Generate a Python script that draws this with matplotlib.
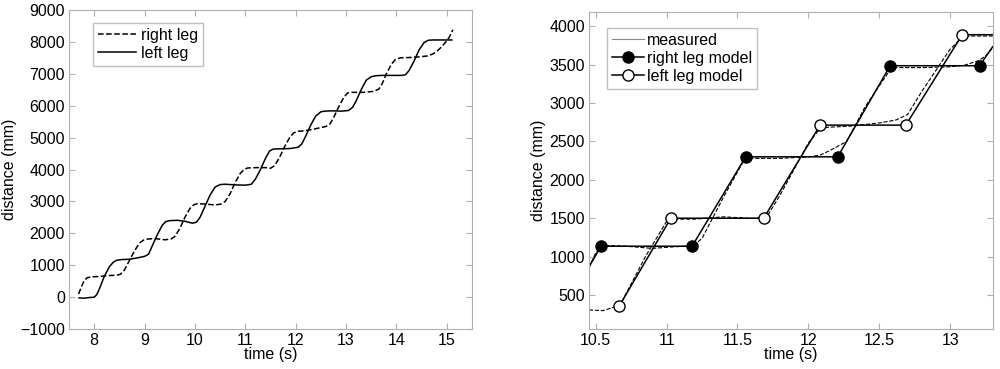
import matplotlib
matplotlib.use('Agg')
import matplotlib.pyplot as plt
from matplotlib.lines import Line2D

plt.rcParams['font.family'] = ['Liberation Sans', 'DejaVu Sans']
plt.rcParams['font.size'] = 11.5

# ---- left panel: whole walk ----
left_t = [7.70, 7.80, 7.90, 8.00, 8.05, 8.10, 8.20, 8.30, 8.38, 8.45, 8.55, 8.70, 8.85,
          9.00, 9.08, 9.15, 9.25, 9.35, 9.42, 9.50, 9.65, 9.80, 9.95, 10.03, 10.10, 10.20,
          10.30, 10.40, 10.50, 10.60, 10.80, 11.00, 11.12, 11.20, 11.30, 11.40, 11.48,
          11.55, 11.70, 11.90, 12.05, 12.12, 12.20, 12.30, 12.40, 12.50, 12.58, 12.70,
          12.90, 13.05, 13.13, 13.20, 13.30, 13.40, 13.50, 13.60, 13.70, 13.90, 14.10,
          14.18, 14.25, 14.35, 14.45, 14.55, 14.63, 14.72, 14.90, 15.10]
left_d = [-20, -30, -10, 0, 80, 250, 650, 950, 1100, 1160, 1180, 1190, 1230,
          1280, 1350, 1600, 1950, 2250, 2370, 2400, 2410, 2380, 2320, 2350, 2500, 2850,
          3200, 3450, 3530, 3540, 3520, 3510, 3540, 3700, 4000, 4350, 4580,
          4640, 4650, 4660, 4700, 4800, 5050, 5400, 5680, 5810, 5830, 5840,
          5830, 5850, 5950, 6150, 6500, 6800, 6910, 6940, 6950, 6950, 6950,
          6970, 7100, 7400, 7750, 7980, 8050, 8060, 8060, 8060]

right_t = [7.69, 7.74, 7.80, 7.86, 7.95, 8.10, 8.30, 8.45, 8.52, 8.60, 8.70, 8.80, 8.90,
           8.98, 9.05, 9.20, 9.40, 9.52, 9.60, 9.70, 9.80, 9.90, 9.98, 10.05, 10.20, 10.40,
           10.52, 10.60, 10.70, 10.80, 10.90, 10.98, 11.05, 11.20, 11.40, 11.50, 11.58,
           11.68, 11.78, 11.88, 11.96, 12.05, 12.20, 12.40, 12.60, 12.68, 12.76, 12.85,
           12.95, 13.03, 13.15, 13.35, 13.55, 13.65, 13.72, 13.80, 13.90, 13.98, 14.08,
           14.25, 14.45, 14.62, 14.72, 14.80, 14.90, 14.98, 15.05, 15.12]
right_d = [100, 300, 520, 610, 640, 650, 680, 690, 720, 850, 1150, 1450, 1700,
           1790, 1820, 1840, 1800, 1820, 1900, 2150, 2500, 2780, 2900, 2930, 2920, 2890,
           2920, 3000, 3250, 3600, 3880, 4010, 4050, 4060, 4060, 4040, 4120,
           4380, 4720, 5000, 5150, 5200, 5220, 5280, 5350, 5430, 5650, 5950,
           6250, 6400, 6420, 6420, 6450, 6520, 6700, 7000, 7300, 7450, 7500,
           7510, 7530, 7560, 7620, 7700, 7850, 8000, 8150, 8380]

# ---- right panel: model vs measured ----
rmod_t = [10.453, 10.538, 11.18, 11.558, 12.207, 12.577, 13.207, 13.30]
rmod_d = [870, 1138, 1138, 2300, 2300, 3484, 3484, 3731]
lmod_t = [10.665, 11.03, 11.685, 12.083, 12.687, 13.085, 13.30]
lmod_d = [357, 1502, 1502, 2712, 2712, 3887, 3887]

rmeas_t = [10.453, 10.50, 10.54, 10.70, 10.90, 11.05, 11.15, 11.20, 11.25, 11.40, 11.55,
           11.60, 11.80, 12.00, 12.08, 12.15, 12.27, 12.40, 12.58, 12.62, 12.80, 13.00,
           13.10, 13.20, 13.25, 13.30]
rmeas_d = [860, 1050, 1150, 1140, 1110, 1130, 1140, 1160, 1240, 1770, 2270,
           2280, 2280, 2300, 2320, 2380, 2500, 2950, 3440, 3460, 3460, 3470,
           3490, 3550, 3610, 3720]
lmeas_t = [10.453, 10.55, 10.62, 10.68, 10.85, 11.00, 11.05, 11.20, 11.40, 11.60, 11.68,
           11.72, 11.80, 12.00, 12.08, 12.10, 12.30, 12.50, 12.62, 12.70, 12.80, 13.00,
           13.09, 13.15, 13.30]
lmeas_d = [310, 300, 340, 400, 1000, 1460, 1490, 1490, 1520, 1500, 1510,
           1560, 1800, 2480, 2660, 2680, 2700, 2740, 2780, 2850, 3150, 3700,
           3860, 3870, 3870]

spine_col = '#b0b0b0'


def style(ax):
    for s in ax.spines.values():
        s.set_color(spine_col)
        s.set_linewidth(0.8)
    ax.tick_params(direction='in', top=True, right=True, color=spine_col,
                   labelsize=11.5, length=4, pad=3)


fig = plt.figure(figsize=(10, 3.69), dpi=100)

ax1 = fig.add_axes([0.069, 0.108, 0.403, 0.865])
ax1.plot(right_t, right_d, 'k--', lw=1.1, label='right leg')
ax1.plot(left_t, left_d, 'k-', lw=1.1, label='left leg')
ax1.set_xlim(7.5, 15.5)
ax1.set_ylim(-1000, 9000)
ax1.set_xticks(range(8, 16))
ax1.set_yticks(range(-1000, 9001, 1000))
ax1.set_xlabel('time (s)', labelpad=-1)
ax1.set_ylabel('distance (mm)', labelpad=2)
style(ax1)
leg1 = ax1.legend(loc='upper left', bbox_to_anchor=(0.04, 0.985), fancybox=False,
                  handlelength=2.4, borderpad=0.3, labelspacing=0.2, handletextpad=0.3)
leg1.get_frame().set_edgecolor(spine_col)

ax2 = fig.add_axes([0.589, 0.108, 0.4037, 0.86])
ax2.plot(rmeas_t, rmeas_d, 'k--', lw=0.8)
ax2.plot(lmeas_t, lmeas_d, 'k--', lw=0.8)
ax2.plot(rmod_t, rmod_d, 'k-', lw=1.1, marker='o', ms=8, mfc='k', mec='k',
         markevery=[1, 2, 3, 4, 5, 6])
ax2.plot(lmod_t, lmod_d, 'k-', lw=1.1, marker='o', ms=8, mfc='white', mec='k',
         markevery=[0, 1, 2, 3, 4, 5])
ax2.set_xlim(10.453, 13.30)
ax2.set_ylim(60, 4185)
ax2.set_xticks([10.5, 11, 11.5, 12, 12.5, 13])
ax2.set_xticklabels(['10.5', '11', '11.5', '12', '12.5', '13'])
ax2.set_yticks(range(500, 4001, 500))
ax2.set_xlabel('time (s)', labelpad=-1)
ax2.set_ylabel('distance (mm)', labelpad=2)
style(ax2)
handles = [Line2D([], [], color='#888888', lw=0.8),
           Line2D([], [], color='k', lw=1.1, marker='o', ms=8, mfc='k'),
           Line2D([], [], color='k', lw=1.1, marker='o', ms=8, mfc='white')]
leg2 = ax2.legend(handles, ['measured', 'right leg model', 'left leg model'],
                  loc='upper left', bbox_to_anchor=(0.025, 0.975), fancybox=False,
                  handlelength=2.0, borderpad=0.3, labelspacing=0.2, handletextpad=0.2)
leg2.get_frame().set_edgecolor(spine_col)

fig.savefig('out.png', dpi=100)
